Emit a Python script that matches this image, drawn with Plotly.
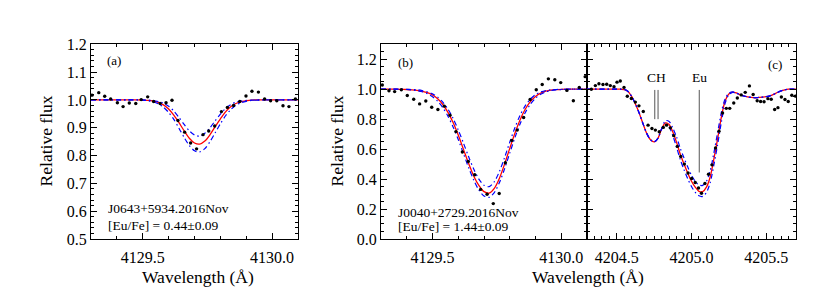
import plotly.graph_objects as go

# ---------------- data ----------------
# Panel (a): J0643+5934, Eu II 4129.7
obs_wave_a = [4129.304, 4129.330, 4129.353, 4129.376, 4129.402, 4129.424, 4129.448, 4129.473,
              4129.494, 4129.519, 4129.542, 4129.567, 4129.590, 4129.613, 4129.636, 4129.662,
              4129.685, 4129.708, 4129.733, 4129.755, 4129.778, 4129.804, 4129.827, 4129.851,
              4129.875, 4129.899, 4129.922, 4129.947, 4129.971, 4129.994, 4130.018, 4130.042,
              4130.065, 4130.090]
obs_flux_a = [1.017, 1.026, 1.013, 1.003, 0.990, 0.976, 0.989, 0.987,
              1.001, 1.011, 0.994, 0.987, 0.990, 0.999, 0.926, 0.884,
              0.845, 0.824, 0.875, 0.888, 0.906, 0.958, 0.973, 0.980,
              0.994, 1.014, 1.031, 1.028, 1.003, 0.997, 0.997, 0.979,
              0.976, 1.003]

# synthetic wavelength grid shared by panels (a) and (b)
syn_wave_ab = [4129.30, 4129.32, 4129.34, 4129.36, 4129.38, 4129.40, 4129.42, 4129.44, 4129.46,
               4129.48, 4129.50, 4129.52, 4129.54, 4129.56, 4129.58, 4129.60, 4129.62, 4129.64,
               4129.66, 4129.68, 4129.70, 4129.72, 4129.74, 4129.76, 4129.78, 4129.80, 4129.82,
               4129.84, 4129.86, 4129.88, 4129.90, 4129.92, 4129.94, 4129.96, 4129.98, 4130.00,
               4130.02, 4130.04, 4130.06, 4130.08, 4130.10]

syn_best_a = [1.000, 1.000, 1.000, 1.000, 1.000, 1.000, 1.000, 1.000, 1.000, 1.000, 0.999,
              0.998, 0.996, 0.991, 0.982, 0.967, 0.945, 0.918, 0.889, 0.862, 0.845, 0.841,
              0.852, 0.875, 0.904, 0.932, 0.957, 0.975, 0.987, 0.994, 0.997, 0.999,
              1.000, 1.000, 1.000, 1.000, 1.000, 1.000, 1.000, 1.000, 1.000]
syn_low_a = [1.000, 1.000, 1.000, 1.000, 1.000, 1.000, 1.000, 1.000, 1.000, 1.000, 1.000,
             0.999, 0.998, 0.994, 0.988, 0.977, 0.960, 0.937, 0.912, 0.889, 0.874, 0.870,
             0.880, 0.900, 0.925, 0.949, 0.969, 0.983, 0.992, 0.996, 0.998, 0.999,
             1.000, 1.000, 1.000, 1.000, 1.000, 1.000, 1.000, 1.000, 1.000]
syn_high_a = [1.000, 1.000, 1.000, 1.000, 1.000, 1.000, 1.000, 1.000, 1.000, 1.000, 0.999,
              0.997, 0.993, 0.986, 0.974, 0.955, 0.930, 0.898, 0.865, 0.836, 0.817, 0.813,
              0.825, 0.850, 0.882, 0.914, 0.943, 0.965, 0.981, 0.990, 0.995, 0.998, 0.999,
              1.000, 1.000, 1.000, 1.000, 1.000, 1.000, 1.000, 1.000]

# Panel (b): J0040+2729, Eu II 4129.7
obs_wave_b = [4129.305, 4129.331, 4129.353, 4129.379, 4129.402, 4129.427, 4129.450, 4129.474,
              4129.497, 4129.521, 4129.546, 4129.568, 4129.591, 4129.616, 4129.639, 4129.664,
              4129.687, 4129.712, 4129.736, 4129.759, 4129.783, 4129.808, 4129.829, 4129.854,
              4129.879, 4129.903, 4129.926, 4129.950, 4129.975, 4129.998, 4130.022, 4130.047,
              4130.070, 4130.093]
obs_flux_b = [1.028, 0.990, 0.984, 0.996, 0.958, 0.933, 0.902, 0.921,
              0.880, 0.864, 0.887, 0.826, 0.717, 0.581, 0.518, 0.429,
              0.331, 0.299, 0.236, 0.304, 0.509, 0.658, 0.727, 0.811,
              0.931, 0.996, 1.031, 1.069, 1.063, 1.044, 0.992, 0.923,
              1.011, 1.084]

syn_best_b = [1.000, 1.000, 1.000, 1.000, 0.999, 0.998, 0.996, 0.992, 0.986, 0.977, 0.961,
              0.936, 0.898, 0.845, 0.777, 0.694, 0.600, 0.505, 0.421, 0.358, 0.316, 0.306,
              0.338, 0.406, 0.500, 0.605, 0.706, 0.795, 0.866, 0.917, 0.952, 0.974, 0.987,
              0.994, 0.997, 0.999, 1.000, 1.000, 1.000, 1.000, 1.000]
syn_low_b = [1.000, 1.000, 1.000, 1.000, 1.000, 0.999, 0.998, 0.996, 0.991, 0.983, 0.969,
             0.947, 0.914, 0.867, 0.805, 0.728, 0.641, 0.551, 0.467, 0.400, 0.359, 0.349,
             0.382, 0.451, 0.544, 0.646, 0.743, 0.826, 0.889, 0.934, 0.964, 0.981, 0.991,
             0.996, 0.998, 0.999, 1.000, 1.000, 1.000, 1.000, 1.000]
syn_high_b = [1.000, 1.000, 1.000, 1.000, 0.999, 0.998, 0.995, 0.991, 0.983, 0.970, 0.950,
              0.920, 0.877, 0.820, 0.748, 0.664, 0.571, 0.478, 0.394, 0.327, 0.287, 0.278,
              0.310, 0.377, 0.469, 0.573, 0.676, 0.768, 0.843, 0.900, 0.940, 0.966, 0.982,
              0.991, 0.996, 0.998, 0.999, 1.000, 1.000, 1.000, 1.000]

# Panel (c): J0040+2729, Eu II 4205.0 with CH blend
obs_wave_c = [4204.329, 4204.356, 4204.380, 4204.407, 4204.432, 4204.456, 4204.481, 4204.501,
              4204.523, 4204.548, 4204.570, 4204.597, 4204.624, 4204.648, 4204.677, 4204.709,
              4204.735, 4204.758, 4204.784, 4204.811, 4204.833, 4204.858, 4204.881, 4204.905,
              4204.928, 4204.952, 4204.977, 4205.001, 4205.025, 4205.047, 4205.067, 4205.090,
              4205.114, 4205.137, 4205.161, 4205.184, 4205.208, 4205.233, 4205.256, 4205.283,
              4205.307, 4205.333, 4205.360, 4205.388, 4205.413, 4205.440, 4205.463, 4205.486,
              4205.512, 4205.534, 4205.557, 4205.579, 4205.602, 4205.626, 4205.648, 4205.672,
              4205.695]
obs_flux_c = [1.000, 1.024, 1.036, 1.031, 1.033, 1.024, 1.017, 1.047,
              1.055, 1.012, 0.953, 0.938, 0.914, 0.889, 0.851, 0.760,
              0.738, 0.727, 0.716, 0.745, 0.760, 0.742, 0.690, 0.618,
              0.551, 0.500, 0.440, 0.404, 0.377, 0.340, 0.305, 0.370,
              0.432, 0.495, 0.608, 0.720, 0.841, 0.872, 0.872, 0.908,
              0.941, 0.962, 0.979, 1.022, 0.965, 0.923, 0.918, 0.916,
              0.937, 0.933, 0.864, 0.877, 0.948, 0.931, 0.918, 0.960,
              0.954]

syn_wave_c = [4204.300, 4204.325, 4204.350, 4204.375, 4204.400, 4204.425, 4204.450, 4204.475,
              4204.500, 4204.525, 4204.550, 4204.575, 4204.600, 4204.625, 4204.650, 4204.675,
              4204.700, 4204.725, 4204.750, 4204.775, 4204.800, 4204.825, 4204.850, 4204.875,
              4204.900, 4204.925, 4204.950, 4204.975, 4205.000, 4205.025, 4205.050, 4205.075,
              4205.100, 4205.125, 4205.150, 4205.175, 4205.200, 4205.225, 4205.250, 4205.275,
              4205.300, 4205.325, 4205.350, 4205.375, 4205.400, 4205.425, 4205.450, 4205.475,
              4205.500, 4205.525, 4205.550, 4205.575, 4205.600, 4205.625, 4205.650, 4205.675,
              4205.700]
syn_best_c = [1.000, 1.000, 1.000, 1.000, 1.000, 1.000, 1.000, 1.000, 1.000, 1.000,
              0.998, 0.985, 0.950, 0.900, 0.840, 0.770, 0.705, 0.663, 0.648, 0.672, 0.735,
              0.775, 0.765, 0.714, 0.645, 0.566, 0.500, 0.439,
              0.385, 0.346, 0.318, 0.316, 0.346, 0.414, 0.534, 0.670, 0.814, 0.921, 0.968,
              0.981, 0.975, 0.963, 0.955, 0.949, 0.945, 0.943, 0.945, 0.947, 0.950, 0.956,
              0.966, 0.978, 0.989, 0.996, 1.000, 1.001, 1.001]
syn_low_c = [1.000, 1.000, 1.000, 1.000, 1.000, 1.000, 1.000, 1.000, 1.000, 1.000,
             0.998, 0.985, 0.950, 0.900, 0.840, 0.770, 0.705, 0.663, 0.648, 0.672, 0.735,
             0.790, 0.785, 0.740, 0.680, 0.605, 0.540, 0.480,
             0.425, 0.385, 0.360, 0.358, 0.385, 0.455, 0.575, 0.710, 0.845, 0.935, 0.973,
             0.983, 0.975, 0.963, 0.955, 0.949, 0.945, 0.943, 0.945, 0.947, 0.950, 0.956,
             0.966, 0.978, 0.989, 0.996, 1.000, 1.001, 1.001]
syn_high_c = [1.000, 1.000, 1.000, 1.000, 1.000, 1.000, 1.000, 1.000, 1.000, 1.000,
              0.998, 0.985, 0.950, 0.900, 0.840, 0.770, 0.705, 0.663, 0.648, 0.672, 0.735,
              0.765, 0.748, 0.690, 0.612, 0.530, 0.462, 0.402,
              0.350, 0.312, 0.288, 0.284, 0.310, 0.375, 0.495, 0.630, 0.780, 0.905, 0.962,
              0.978, 0.975, 0.963, 0.955, 0.949, 0.945, 0.943, 0.945, 0.947, 0.950, 0.956,
              0.966, 0.978, 0.989, 0.996, 1.000, 1.001, 1.001]

# line identifications in panel (c)
ch_lines = [4204.754, 4204.776]
eu_line = 4205.052

# tick labels
yticks_a = [0.5, 0.6, 0.7, 0.8, 0.9, 1.0, 1.1, 1.2]
yticks_bc = [0.0, 0.2, 0.4, 0.6, 0.8, 1.0, 1.2]
xticks_ab = [4129.5, 4130.0]
xticks_c = [4204.5, 4205.0, 4205.5]

# ---------------- figure ----------------
W, H = 830, 297
FONT = "Liberation Serif, Times New Roman, Times, serif"

fig = go.Figure()

panels = [
    ("x", "y", syn_wave_ab, syn_best_a, syn_low_a, syn_high_a, obs_wave_a, obs_flux_a),
    ("x2", "y2", syn_wave_ab, syn_best_b, syn_low_b, syn_high_b, obs_wave_b, obs_flux_b),
    ("x3", "y3", syn_wave_c, syn_best_c, syn_low_c, syn_high_c, obs_wave_c, obs_flux_c),
]
blue_dash = "5px,3px,1.5px,3px"
for xa, ya, sw, best, low, high, ow, of in panels:
    fig.add_trace(go.Scatter(x=sw, y=best, mode="lines", xaxis=xa, yaxis=ya,
                             line=dict(color="#ff0000", width=1.3, shape="spline", smoothing=0.8),
                             showlegend=False, hoverinfo="skip"))
    for s in (low, high):
        fig.add_trace(go.Scatter(x=sw, y=s, mode="lines", xaxis=xa, yaxis=ya,
                                 line=dict(color="#0000ff", width=1.2, dash=blue_dash,
                                           shape="spline", smoothing=0.8),
                                 showlegend=False, hoverinfo="skip"))
    fig.add_trace(go.Scatter(x=ow, y=of, mode="markers", xaxis=xa, yaxis=ya,
                             marker=dict(color="black", size=3.4),
                             showlegend=False))

def px2x(px):
    return px / W

def py2y(py):
    return 1 - py / H

top, bottom = 30, 236.5
ydom = [py2y(bottom), py2y(top)]

axis_common = dict(showline=True, linecolor="black", linewidth=1, mirror="allticks",
                   ticks="inside", ticklen=6, tickwidth=1, tickcolor="black",
                   showgrid=False, zeroline=False,
                   tickfont=dict(family=FONT, size=16, color="black"))

def xaxis(dom, rng, tv, minor_dt, anchor):
    return dict(domain=dom, range=rng, tickvals=tv, ticktext=[f"{v:.1f}" for v in tv],
                anchor=anchor, ticklabelstandoff=4,
                minor=dict(ticks="inside", ticklen=3, dtick=minor_dt, tick0=rng[0],
                           tickcolor="black", showgrid=False),
                **axis_common)

def yaxis(rng, tv, minor_dt, anchor, labels=True):
    return dict(domain=ydom, range=rng, tickvals=tv, ticktext=[f"{v:.1f}" for v in tv],
                anchor=anchor, showticklabels=labels,
                minor=dict(ticks="inside", ticklen=3, dtick=minor_dt, tick0=rng[0],
                           tickcolor="black", showgrid=False),
                **axis_common)

fig.update_layout(
    width=W, height=H, margin=dict(l=0, r=0, t=0, b=0),
    paper_bgcolor="white", plot_bgcolor="white",
    font=dict(family=FONT, color="black"),
    xaxis=xaxis([px2x(83), px2x(290)], [4129.3, 4130.1], xticks_ab, 0.1, "y"),
    yaxis=yaxis([0.5, 1.2], yticks_a, 0.02, "x"),
    xaxis2=xaxis([px2x(373), px2x(579)], [4129.3, 4130.1], xticks_ab, 0.1, "y2"),
    yaxis2=yaxis([0.0, 1.3], yticks_bc, 0.05, "x2"),
    xaxis3=xaxis([px2x(579), px2x(788)], [4204.3, 4205.7], xticks_c, 0.05, "y3"),
    yaxis3=yaxis([0.0, 1.3], yticks_bc, 0.05, "x3", labels=False),
)

# line markers for CH and Eu in panel (c)
for w in ch_lines:
    fig.add_shape(type="line", xref="x3", yref="y3", x0=w, x1=w, y0=0.80, y1=0.995,
                  line=dict(color="#555555", width=1))
fig.add_shape(type="line", xref="x3", yref="y3", x0=eu_line, x1=eu_line, y0=0.444, y1=0.995,
              line=dict(color="#555555", width=1))

def ann(text, px, py, size, xanchor="center", angle=0):
    fig.add_annotation(text=text, x=px2x(px), y=py2y(py), xref="paper", yref="paper",
                       showarrow=False, xanchor=xanchor, yanchor="middle", textangle=angle,
                       font=dict(family=FONT, size=size, color="black"))

ann("(a)", 106, 47, 13)
ann("(b)", 397, 49, 13)
ann("(c)", 767, 51, 13)
ann("J0643+5934.2016Nov", 98, 204, 13.5, "left")
ann("[Eu/Fe] = 0.44±0.09", 98, 222, 13.5, "left")
ann("J0040+2729.2016Nov", 388, 208, 13.5, "left")
ann("[Eu/Fe] = 1.44±0.09", 388, 223, 13.5, "left")
fig.add_annotation(text="CH", x=sum(ch_lines) / 2, y=1.08, xref="x3", yref="y3",
                   showarrow=False, font=dict(family=FONT, size=13.5, color="black"))
fig.add_annotation(text="Eu", x=eu_line, y=1.08, xref="x3", yref="y3",
                   showarrow=False, font=dict(family=FONT, size=13.5, color="black"))

ann("Relative flux", 38, 133, 17.5, angle=-90)
ann("Relative flux", 329, 133, 17.5, angle=-90)
ann("Wavelength (Å)", 190, 277, 17.5)
ann("Wavelength (Å)", 580, 277, 17.5)

fig.write_html("out.html")
